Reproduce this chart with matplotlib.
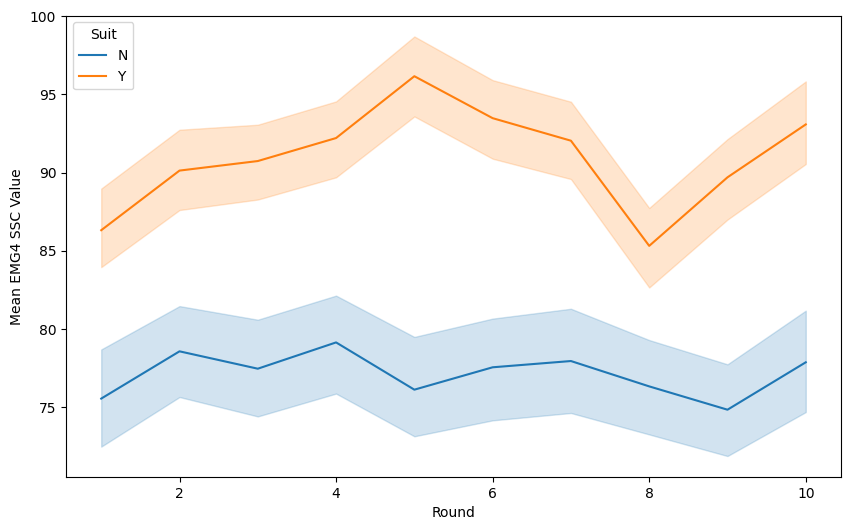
import matplotlib
matplotlib.use("Agg")
import matplotlib.pyplot as plt

rounds = [1, 2, 3, 4, 5, 6, 7, 8, 9, 10]

n_mean = [75.56, 78.58, 77.47, 79.15, 76.13, 77.56, 77.96, 76.34, 74.85, 77.88]
n_low = [72.49, 75.66, 74.42, 75.88, 73.15, 74.17, 74.64, 73.27, 71.89, 74.70]
n_high = [78.70, 81.47, 80.60, 82.14, 79.50, 80.67, 81.30, 79.30, 77.75, 81.18]

y_mean = [86.32, 90.13, 90.74, 92.21, 96.16, 93.48, 92.04, 85.32, 89.70, 93.08]
y_low = [83.96, 87.61, 88.28, 89.70, 93.59, 90.89, 89.59, 82.66, 87.00, 90.55]
y_high = [88.98, 92.74, 93.06, 94.55, 98.70, 95.91, 94.53, 87.74, 92.14, 95.83]

series = [("N", n_mean, n_low, n_high, "#1f77b4"),
          ("Y", y_mean, y_low, y_high, "#ff7f0e")]

fig = plt.figure(figsize=(8.5, 5.3), dpi=100)
ax = fig.add_axes([66/850, 1 - 477/530, (841-66)/850, (477-15.5)/530])

for name, m, lo, hi, c in series:
    ax.plot(rounds, m, color=c, lw=1.5, label=name)
    ax.fill_between(rounds, lo, hi, color=c, alpha=0.2)

ax.set_xlabel("Round")
ax.set_ylabel("Mean EMG4 SSC Value")
ax.legend(title="Suit", loc="upper left")

fig.savefig("out.png", dpi=100)
